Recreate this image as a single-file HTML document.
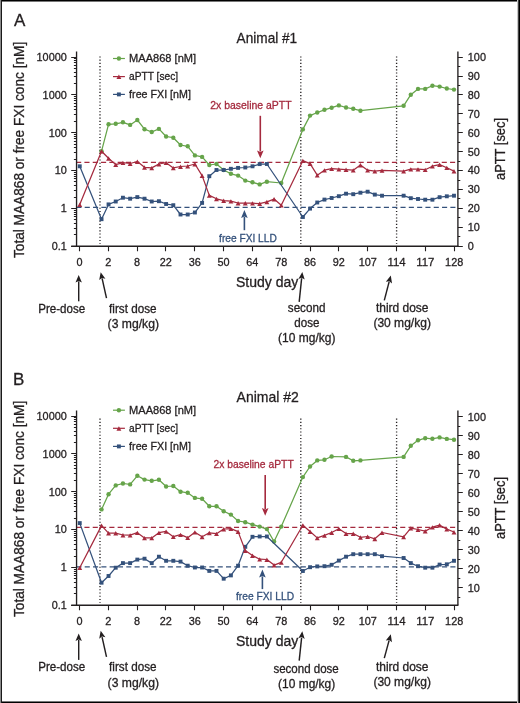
<!DOCTYPE html>
<html><head><meta charset="utf-8"><style>
html,body{margin:0;padding:0;background:#fff;}
body{width:520px;height:703px;overflow:hidden;}
svg{display:block;will-change:transform;}
text{font-family:"Liberation Sans", sans-serif;}
</style></head><body>
<svg width="520" height="703" viewBox="0 0 520 703">
<rect x="0" y="0" width="520" height="703" fill="#fff"/>
<line x1="100.0" y1="56.4" x2="100.0" y2="243.95" stroke="#231f20" stroke-width="1.35" stroke-dasharray="1.1 2.12"/>
<line x1="300.8" y1="56.4" x2="300.8" y2="243.95" stroke="#231f20" stroke-width="1.35" stroke-dasharray="1.1 2.12"/>
<line x1="396.6" y1="56.4" x2="396.6" y2="243.95" stroke="#231f20" stroke-width="1.35" stroke-dasharray="1.1 2.12"/>
<line x1="76.1" y1="162.4" x2="455.5" y2="162.4" stroke="#a52a3e" stroke-width="1.2" stroke-dasharray="5.1 3.21"/>
<line x1="76.4" y1="207.4" x2="455.5" y2="207.4" stroke="#34517b" stroke-width="1.2" stroke-dasharray="5.1 3.21"/>
<line x1="76.55" y1="51.5" x2="76.55" y2="246.25" stroke="#231f20" stroke-width="1.35"/>
<line x1="71.2" y1="57.50" x2="76.55" y2="57.50" stroke="#231f20" stroke-width="1"/>
<text x="66.8" y="61.0" font-size="11.6" fill="#231f20" stroke="#231f20" stroke-width="0.3" text-anchor="end" textLength="30.25" lengthAdjust="spacingAndGlyphs">10000</text>
<line x1="73.9" y1="83.50" x2="76.55" y2="83.50" stroke="#231f20" stroke-width="1"/>
<line x1="73.9" y1="76.50" x2="76.55" y2="76.50" stroke="#231f20" stroke-width="1"/>
<line x1="73.9" y1="72.50" x2="76.55" y2="72.50" stroke="#231f20" stroke-width="1"/>
<line x1="73.9" y1="68.50" x2="76.55" y2="68.50" stroke="#231f20" stroke-width="1"/>
<line x1="73.9" y1="65.50" x2="76.55" y2="65.50" stroke="#231f20" stroke-width="1"/>
<line x1="73.9" y1="62.50" x2="76.55" y2="62.50" stroke="#231f20" stroke-width="1"/>
<line x1="73.9" y1="60.50" x2="76.55" y2="60.50" stroke="#231f20" stroke-width="1"/>
<line x1="73.9" y1="58.50" x2="76.55" y2="58.50" stroke="#231f20" stroke-width="1"/>
<line x1="71.2" y1="94.50" x2="76.55" y2="94.50" stroke="#231f20" stroke-width="1"/>
<text x="66.8" y="98.83000000000001" font-size="11.6" fill="#231f20" stroke="#231f20" stroke-width="0.3" text-anchor="end" textLength="24.2" lengthAdjust="spacingAndGlyphs">1000</text>
<line x1="73.9" y1="121.50" x2="76.55" y2="121.50" stroke="#231f20" stroke-width="1"/>
<line x1="73.9" y1="114.50" x2="76.55" y2="114.50" stroke="#231f20" stroke-width="1"/>
<line x1="73.9" y1="109.50" x2="76.55" y2="109.50" stroke="#231f20" stroke-width="1"/>
<line x1="73.9" y1="106.50" x2="76.55" y2="106.50" stroke="#231f20" stroke-width="1"/>
<line x1="73.9" y1="103.50" x2="76.55" y2="103.50" stroke="#231f20" stroke-width="1"/>
<line x1="73.9" y1="100.50" x2="76.55" y2="100.50" stroke="#231f20" stroke-width="1"/>
<line x1="73.9" y1="98.50" x2="76.55" y2="98.50" stroke="#231f20" stroke-width="1"/>
<line x1="73.9" y1="96.50" x2="76.55" y2="96.50" stroke="#231f20" stroke-width="1"/>
<line x1="71.2" y1="132.50" x2="76.55" y2="132.50" stroke="#231f20" stroke-width="1"/>
<text x="66.8" y="136.66" font-size="11.6" fill="#231f20" stroke="#231f20" stroke-width="0.3" text-anchor="end" textLength="18.15" lengthAdjust="spacingAndGlyphs">100</text>
<line x1="73.9" y1="159.50" x2="76.55" y2="159.50" stroke="#231f20" stroke-width="1"/>
<line x1="73.9" y1="152.50" x2="76.55" y2="152.50" stroke="#231f20" stroke-width="1"/>
<line x1="73.9" y1="147.50" x2="76.55" y2="147.50" stroke="#231f20" stroke-width="1"/>
<line x1="73.9" y1="144.50" x2="76.55" y2="144.50" stroke="#231f20" stroke-width="1"/>
<line x1="73.9" y1="141.50" x2="76.55" y2="141.50" stroke="#231f20" stroke-width="1"/>
<line x1="73.9" y1="138.50" x2="76.55" y2="138.50" stroke="#231f20" stroke-width="1"/>
<line x1="73.9" y1="136.50" x2="76.55" y2="136.50" stroke="#231f20" stroke-width="1"/>
<line x1="73.9" y1="134.50" x2="76.55" y2="134.50" stroke="#231f20" stroke-width="1"/>
<line x1="71.2" y1="170.50" x2="76.55" y2="170.50" stroke="#231f20" stroke-width="1"/>
<text x="66.8" y="174.49" font-size="11.6" fill="#231f20" stroke="#231f20" stroke-width="0.3" text-anchor="end" textLength="12.1" lengthAdjust="spacingAndGlyphs">10</text>
<line x1="73.9" y1="197.50" x2="76.55" y2="197.50" stroke="#231f20" stroke-width="1"/>
<line x1="73.9" y1="190.50" x2="76.55" y2="190.50" stroke="#231f20" stroke-width="1"/>
<line x1="73.9" y1="185.50" x2="76.55" y2="185.50" stroke="#231f20" stroke-width="1"/>
<line x1="73.9" y1="181.50" x2="76.55" y2="181.50" stroke="#231f20" stroke-width="1"/>
<line x1="73.9" y1="178.50" x2="76.55" y2="178.50" stroke="#231f20" stroke-width="1"/>
<line x1="73.9" y1="176.50" x2="76.55" y2="176.50" stroke="#231f20" stroke-width="1"/>
<line x1="73.9" y1="174.50" x2="76.55" y2="174.50" stroke="#231f20" stroke-width="1"/>
<line x1="73.9" y1="172.50" x2="76.55" y2="172.50" stroke="#231f20" stroke-width="1"/>
<line x1="71.2" y1="208.50" x2="76.55" y2="208.50" stroke="#231f20" stroke-width="1"/>
<text x="66.8" y="212.32" font-size="11.6" fill="#231f20" stroke="#231f20" stroke-width="0.3" text-anchor="end" textLength="6.05" lengthAdjust="spacingAndGlyphs">1</text>
<line x1="73.9" y1="234.50" x2="76.55" y2="234.50" stroke="#231f20" stroke-width="1"/>
<line x1="73.9" y1="228.50" x2="76.55" y2="228.50" stroke="#231f20" stroke-width="1"/>
<line x1="73.9" y1="223.50" x2="76.55" y2="223.50" stroke="#231f20" stroke-width="1"/>
<line x1="73.9" y1="219.50" x2="76.55" y2="219.50" stroke="#231f20" stroke-width="1"/>
<line x1="73.9" y1="216.50" x2="76.55" y2="216.50" stroke="#231f20" stroke-width="1"/>
<line x1="73.9" y1="214.50" x2="76.55" y2="214.50" stroke="#231f20" stroke-width="1"/>
<line x1="73.9" y1="212.50" x2="76.55" y2="212.50" stroke="#231f20" stroke-width="1"/>
<line x1="73.9" y1="210.50" x2="76.55" y2="210.50" stroke="#231f20" stroke-width="1"/>
<line x1="71.2" y1="246.50" x2="76.55" y2="246.50" stroke="#231f20" stroke-width="1"/>
<text x="66.8" y="250.14999999999998" font-size="11.6" fill="#231f20" stroke="#231f20" stroke-width="0.3" text-anchor="end" textLength="15.0" lengthAdjust="spacingAndGlyphs">0.1</text>
<line x1="457.9" y1="51.5" x2="457.9" y2="246.25" stroke="#231f20" stroke-width="1.35"/>
<line x1="457.9" y1="57.50" x2="462.8" y2="57.50" stroke="#231f20" stroke-width="1"/>
<text x="467.8" y="61.0" font-size="11.6" fill="#231f20" stroke="#231f20" stroke-width="0.3" text-anchor="start" textLength="18.15" lengthAdjust="spacingAndGlyphs">100</text>
<line x1="457.9" y1="66.50" x2="460.3" y2="66.50" stroke="#231f20" stroke-width="1"/>
<line x1="457.9" y1="76.50" x2="462.8" y2="76.50" stroke="#231f20" stroke-width="1"/>
<text x="467.8" y="79.915" font-size="11.6" fill="#231f20" stroke="#231f20" stroke-width="0.3" text-anchor="start" textLength="12.1" lengthAdjust="spacingAndGlyphs">90</text>
<line x1="457.9" y1="85.50" x2="460.3" y2="85.50" stroke="#231f20" stroke-width="1"/>
<line x1="457.9" y1="94.50" x2="462.8" y2="94.50" stroke="#231f20" stroke-width="1"/>
<text x="467.8" y="98.83000000000001" font-size="11.6" fill="#231f20" stroke="#231f20" stroke-width="0.3" text-anchor="start" textLength="12.1" lengthAdjust="spacingAndGlyphs">80</text>
<line x1="457.9" y1="104.50" x2="460.3" y2="104.50" stroke="#231f20" stroke-width="1"/>
<line x1="457.9" y1="113.50" x2="462.8" y2="113.50" stroke="#231f20" stroke-width="1"/>
<text x="467.8" y="117.745" font-size="11.6" fill="#231f20" stroke="#231f20" stroke-width="0.3" text-anchor="start" textLength="12.1" lengthAdjust="spacingAndGlyphs">70</text>
<line x1="457.9" y1="123.50" x2="460.3" y2="123.50" stroke="#231f20" stroke-width="1"/>
<line x1="457.9" y1="132.50" x2="462.8" y2="132.50" stroke="#231f20" stroke-width="1"/>
<text x="467.8" y="136.66" font-size="11.6" fill="#231f20" stroke="#231f20" stroke-width="0.3" text-anchor="start" textLength="12.1" lengthAdjust="spacingAndGlyphs">60</text>
<line x1="457.9" y1="142.50" x2="460.3" y2="142.50" stroke="#231f20" stroke-width="1"/>
<line x1="457.9" y1="151.50" x2="462.8" y2="151.50" stroke="#231f20" stroke-width="1"/>
<text x="467.8" y="155.575" font-size="11.6" fill="#231f20" stroke="#231f20" stroke-width="0.3" text-anchor="start" textLength="12.1" lengthAdjust="spacingAndGlyphs">50</text>
<line x1="457.9" y1="161.50" x2="460.3" y2="161.50" stroke="#231f20" stroke-width="1"/>
<line x1="457.9" y1="170.50" x2="462.8" y2="170.50" stroke="#231f20" stroke-width="1"/>
<text x="467.8" y="174.49" font-size="11.6" fill="#231f20" stroke="#231f20" stroke-width="0.3" text-anchor="start" textLength="12.1" lengthAdjust="spacingAndGlyphs">40</text>
<line x1="457.9" y1="180.50" x2="460.3" y2="180.50" stroke="#231f20" stroke-width="1"/>
<line x1="457.9" y1="189.50" x2="462.8" y2="189.50" stroke="#231f20" stroke-width="1"/>
<text x="467.8" y="193.405" font-size="11.6" fill="#231f20" stroke="#231f20" stroke-width="0.3" text-anchor="start" textLength="12.1" lengthAdjust="spacingAndGlyphs">30</text>
<line x1="457.9" y1="198.50" x2="460.3" y2="198.50" stroke="#231f20" stroke-width="1"/>
<line x1="457.9" y1="208.50" x2="462.8" y2="208.50" stroke="#231f20" stroke-width="1"/>
<text x="467.8" y="212.32" font-size="11.6" fill="#231f20" stroke="#231f20" stroke-width="0.3" text-anchor="start" textLength="12.1" lengthAdjust="spacingAndGlyphs">20</text>
<line x1="457.9" y1="217.50" x2="460.3" y2="217.50" stroke="#231f20" stroke-width="1"/>
<line x1="457.9" y1="227.50" x2="462.8" y2="227.50" stroke="#231f20" stroke-width="1"/>
<text x="467.8" y="231.23499999999999" font-size="11.6" fill="#231f20" stroke="#231f20" stroke-width="0.3" text-anchor="start" textLength="12.1" lengthAdjust="spacingAndGlyphs">10</text>
<line x1="457.9" y1="236.50" x2="460.3" y2="236.50" stroke="#231f20" stroke-width="1"/>
<line x1="457.9" y1="246.50" x2="462.8" y2="246.50" stroke="#231f20" stroke-width="1"/>
<text x="467.8" y="250.14999999999998" font-size="11.6" fill="#231f20" stroke="#231f20" stroke-width="0.3" text-anchor="start" textLength="6.05" lengthAdjust="spacingAndGlyphs">0</text>
<line x1="71.2" y1="246.25" x2="458.4" y2="246.25" stroke="#231f20" stroke-width="1.3"/>
<line x1="79.50" y1="246.25" x2="79.50" y2="251.25" stroke="#231f20" stroke-width="1.1"/>
<text x="79.40" y="266.45" font-size="11.6" fill="#231f20" stroke="#231f20" stroke-width="0.3" text-anchor="middle" textLength="6.05" lengthAdjust="spacingAndGlyphs">0</text>
<line x1="108.50" y1="246.25" x2="108.50" y2="251.25" stroke="#231f20" stroke-width="1.1"/>
<text x="108.23" y="266.45" font-size="11.6" fill="#231f20" stroke="#231f20" stroke-width="0.3" text-anchor="middle" textLength="6.05" lengthAdjust="spacingAndGlyphs">2</text>
<line x1="137.50" y1="246.25" x2="137.50" y2="251.25" stroke="#231f20" stroke-width="1.1"/>
<text x="137.06" y="266.45" font-size="11.6" fill="#231f20" stroke="#231f20" stroke-width="0.3" text-anchor="middle" textLength="6.05" lengthAdjust="spacingAndGlyphs">8</text>
<line x1="165.50" y1="246.25" x2="165.50" y2="251.25" stroke="#231f20" stroke-width="1.1"/>
<text x="165.89" y="266.45" font-size="11.6" fill="#231f20" stroke="#231f20" stroke-width="0.3" text-anchor="middle" textLength="12.1" lengthAdjust="spacingAndGlyphs">22</text>
<line x1="194.50" y1="246.25" x2="194.50" y2="251.25" stroke="#231f20" stroke-width="1.1"/>
<text x="194.72" y="266.45" font-size="11.6" fill="#231f20" stroke="#231f20" stroke-width="0.3" text-anchor="middle" textLength="12.1" lengthAdjust="spacingAndGlyphs">36</text>
<line x1="223.50" y1="246.25" x2="223.50" y2="251.25" stroke="#231f20" stroke-width="1.1"/>
<text x="223.55" y="266.45" font-size="11.6" fill="#231f20" stroke="#231f20" stroke-width="0.3" text-anchor="middle" textLength="12.1" lengthAdjust="spacingAndGlyphs">50</text>
<line x1="252.50" y1="246.25" x2="252.50" y2="251.25" stroke="#231f20" stroke-width="1.1"/>
<text x="252.38" y="266.45" font-size="11.6" fill="#231f20" stroke="#231f20" stroke-width="0.3" text-anchor="middle" textLength="12.1" lengthAdjust="spacingAndGlyphs">64</text>
<line x1="281.50" y1="246.25" x2="281.50" y2="251.25" stroke="#231f20" stroke-width="1.1"/>
<text x="281.21" y="266.45" font-size="11.6" fill="#231f20" stroke="#231f20" stroke-width="0.3" text-anchor="middle" textLength="12.1" lengthAdjust="spacingAndGlyphs">78</text>
<line x1="310.50" y1="246.25" x2="310.50" y2="251.25" stroke="#231f20" stroke-width="1.1"/>
<text x="310.04" y="266.45" font-size="11.6" fill="#231f20" stroke="#231f20" stroke-width="0.3" text-anchor="middle" textLength="12.1" lengthAdjust="spacingAndGlyphs">86</text>
<line x1="338.50" y1="246.25" x2="338.50" y2="251.25" stroke="#231f20" stroke-width="1.1"/>
<text x="338.87" y="266.45" font-size="11.6" fill="#231f20" stroke="#231f20" stroke-width="0.3" text-anchor="middle" textLength="12.1" lengthAdjust="spacingAndGlyphs">92</text>
<line x1="367.50" y1="246.25" x2="367.50" y2="251.25" stroke="#231f20" stroke-width="1.1"/>
<text x="367.70" y="266.45" font-size="11.6" fill="#231f20" stroke="#231f20" stroke-width="0.3" text-anchor="middle" textLength="18.15" lengthAdjust="spacingAndGlyphs">107</text>
<line x1="396.50" y1="246.25" x2="396.50" y2="251.25" stroke="#231f20" stroke-width="1.1"/>
<text x="396.53" y="266.45" font-size="11.6" fill="#231f20" stroke="#231f20" stroke-width="0.3" text-anchor="middle" textLength="18.15" lengthAdjust="spacingAndGlyphs">114</text>
<line x1="425.50" y1="246.25" x2="425.50" y2="251.25" stroke="#231f20" stroke-width="1.1"/>
<text x="425.36" y="266.45" font-size="11.6" fill="#231f20" stroke="#231f20" stroke-width="0.3" text-anchor="middle" textLength="18.15" lengthAdjust="spacingAndGlyphs">117</text>
<line x1="454.50" y1="246.25" x2="454.50" y2="251.25" stroke="#231f20" stroke-width="1.1"/>
<text x="454.19" y="266.45" font-size="11.6" fill="#231f20" stroke="#231f20" stroke-width="0.3" text-anchor="middle" textLength="18.15" lengthAdjust="spacingAndGlyphs">128</text>
<polyline points="101.54,151.20 108.54,124.30 115.73,123.80 122.93,122.30 130.13,124.90 137.33,120.00 144.52,129.20 151.72,132.00 158.92,128.90 166.11,136.50 173.31,137.70 180.51,145.00 187.70,146.30 194.90,155.40 202.10,156.90 209.30,165.00 216.49,164.00 223.69,170.00 230.89,173.80 238.08,175.60 245.28,180.60 252.48,182.30 259.68,184.40 266.87,181.70 281.27,183.00 302.86,129.40 310.05,115.60 317.25,112.50 324.45,109.80 331.64,107.70 338.84,105.40 346.04,107.50 353.24,108.80 360.43,110.70 403.62,105.80 410.81,94.70 418.01,88.90 425.21,88.90 432.40,85.70 439.60,86.60 446.80,88.50 453.99,89.60" fill="none" stroke="#66a44a" stroke-width="1.25" stroke-linejoin="round"/>
<circle cx="101.54" cy="151.20" r="2.20" fill="#66a44a"/>
<circle cx="108.54" cy="124.30" r="2.20" fill="#66a44a"/>
<circle cx="115.73" cy="123.80" r="2.20" fill="#66a44a"/>
<circle cx="122.93" cy="122.30" r="2.20" fill="#66a44a"/>
<circle cx="130.13" cy="124.90" r="2.20" fill="#66a44a"/>
<circle cx="137.33" cy="120.00" r="2.20" fill="#66a44a"/>
<circle cx="144.52" cy="129.20" r="2.20" fill="#66a44a"/>
<circle cx="151.72" cy="132.00" r="2.20" fill="#66a44a"/>
<circle cx="158.92" cy="128.90" r="2.20" fill="#66a44a"/>
<circle cx="166.11" cy="136.50" r="2.20" fill="#66a44a"/>
<circle cx="173.31" cy="137.70" r="2.20" fill="#66a44a"/>
<circle cx="180.51" cy="145.00" r="2.20" fill="#66a44a"/>
<circle cx="187.70" cy="146.30" r="2.20" fill="#66a44a"/>
<circle cx="194.90" cy="155.40" r="2.20" fill="#66a44a"/>
<circle cx="202.10" cy="156.90" r="2.20" fill="#66a44a"/>
<circle cx="209.30" cy="165.00" r="2.20" fill="#66a44a"/>
<circle cx="216.49" cy="164.00" r="2.20" fill="#66a44a"/>
<circle cx="223.69" cy="170.00" r="2.20" fill="#66a44a"/>
<circle cx="230.89" cy="173.80" r="2.20" fill="#66a44a"/>
<circle cx="238.08" cy="175.60" r="2.20" fill="#66a44a"/>
<circle cx="245.28" cy="180.60" r="2.20" fill="#66a44a"/>
<circle cx="252.48" cy="182.30" r="2.20" fill="#66a44a"/>
<circle cx="259.68" cy="184.40" r="2.20" fill="#66a44a"/>
<circle cx="266.87" cy="181.70" r="2.20" fill="#66a44a"/>
<circle cx="281.27" cy="183.00" r="2.20" fill="#66a44a"/>
<circle cx="302.86" cy="129.40" r="2.20" fill="#66a44a"/>
<circle cx="310.05" cy="115.60" r="2.20" fill="#66a44a"/>
<circle cx="317.25" cy="112.50" r="2.20" fill="#66a44a"/>
<circle cx="324.45" cy="109.80" r="2.20" fill="#66a44a"/>
<circle cx="331.64" cy="107.70" r="2.20" fill="#66a44a"/>
<circle cx="338.84" cy="105.40" r="2.20" fill="#66a44a"/>
<circle cx="346.04" cy="107.50" r="2.20" fill="#66a44a"/>
<circle cx="353.24" cy="108.80" r="2.20" fill="#66a44a"/>
<circle cx="360.43" cy="110.70" r="2.20" fill="#66a44a"/>
<circle cx="403.62" cy="105.80" r="2.20" fill="#66a44a"/>
<circle cx="410.81" cy="94.70" r="2.20" fill="#66a44a"/>
<circle cx="418.01" cy="88.90" r="2.20" fill="#66a44a"/>
<circle cx="425.21" cy="88.90" r="2.20" fill="#66a44a"/>
<circle cx="432.40" cy="85.70" r="2.20" fill="#66a44a"/>
<circle cx="439.60" cy="86.60" r="2.20" fill="#66a44a"/>
<circle cx="446.80" cy="88.50" r="2.20" fill="#66a44a"/>
<circle cx="453.99" cy="89.60" r="2.20" fill="#66a44a"/>
<polyline points="79.75,166.30 101.54,219.20 108.54,204.40 115.73,201.50 122.93,197.70 130.13,198.70 137.33,197.10 144.52,198.70 151.72,201.50 158.92,201.20 166.11,204.00 173.31,205.20 180.51,214.50 187.70,214.50 194.90,212.50 202.10,202.90 209.30,176.20 216.49,170.00 223.69,170.00 230.89,168.80 238.08,167.90 245.28,167.50 252.48,166.30 259.68,164.10 266.87,164.00 302.86,217.00 310.05,208.60 317.25,202.50 324.45,199.60 331.64,198.00 338.84,196.20 346.04,193.70 353.24,194.20 360.43,192.70 367.63,191.70 374.83,194.60 382.02,195.70 403.62,195.70 410.81,198.20 418.01,199.00 425.21,199.70 432.40,199.70 439.60,197.20 446.80,196.30 453.99,195.70" fill="none" stroke="#34517b" stroke-width="1.25" stroke-linejoin="round"/>
<rect x="77.80" y="164.35" width="3.90" height="3.90" fill="#34517b"/>
<rect x="99.59" y="217.25" width="3.90" height="3.90" fill="#34517b"/>
<rect x="106.59" y="202.45" width="3.90" height="3.90" fill="#34517b"/>
<rect x="113.78" y="199.55" width="3.90" height="3.90" fill="#34517b"/>
<rect x="120.98" y="195.75" width="3.90" height="3.90" fill="#34517b"/>
<rect x="128.18" y="196.75" width="3.90" height="3.90" fill="#34517b"/>
<rect x="135.38" y="195.15" width="3.90" height="3.90" fill="#34517b"/>
<rect x="142.57" y="196.75" width="3.90" height="3.90" fill="#34517b"/>
<rect x="149.77" y="199.55" width="3.90" height="3.90" fill="#34517b"/>
<rect x="156.97" y="199.25" width="3.90" height="3.90" fill="#34517b"/>
<rect x="164.16" y="202.05" width="3.90" height="3.90" fill="#34517b"/>
<rect x="171.36" y="203.25" width="3.90" height="3.90" fill="#34517b"/>
<rect x="178.56" y="212.55" width="3.90" height="3.90" fill="#34517b"/>
<rect x="185.75" y="212.55" width="3.90" height="3.90" fill="#34517b"/>
<rect x="192.95" y="210.55" width="3.90" height="3.90" fill="#34517b"/>
<rect x="200.15" y="200.95" width="3.90" height="3.90" fill="#34517b"/>
<rect x="207.35" y="174.25" width="3.90" height="3.90" fill="#34517b"/>
<rect x="214.54" y="168.05" width="3.90" height="3.90" fill="#34517b"/>
<rect x="221.74" y="168.05" width="3.90" height="3.90" fill="#34517b"/>
<rect x="228.94" y="166.85" width="3.90" height="3.90" fill="#34517b"/>
<rect x="236.13" y="165.95" width="3.90" height="3.90" fill="#34517b"/>
<rect x="243.33" y="165.55" width="3.90" height="3.90" fill="#34517b"/>
<rect x="250.53" y="164.35" width="3.90" height="3.90" fill="#34517b"/>
<rect x="257.73" y="162.15" width="3.90" height="3.90" fill="#34517b"/>
<rect x="264.92" y="162.05" width="3.90" height="3.90" fill="#34517b"/>
<rect x="300.91" y="215.05" width="3.90" height="3.90" fill="#34517b"/>
<rect x="308.10" y="206.65" width="3.90" height="3.90" fill="#34517b"/>
<rect x="315.30" y="200.55" width="3.90" height="3.90" fill="#34517b"/>
<rect x="322.50" y="197.65" width="3.90" height="3.90" fill="#34517b"/>
<rect x="329.69" y="196.05" width="3.90" height="3.90" fill="#34517b"/>
<rect x="336.89" y="194.25" width="3.90" height="3.90" fill="#34517b"/>
<rect x="344.09" y="191.75" width="3.90" height="3.90" fill="#34517b"/>
<rect x="351.29" y="192.25" width="3.90" height="3.90" fill="#34517b"/>
<rect x="358.48" y="190.75" width="3.90" height="3.90" fill="#34517b"/>
<rect x="365.68" y="189.75" width="3.90" height="3.90" fill="#34517b"/>
<rect x="372.88" y="192.65" width="3.90" height="3.90" fill="#34517b"/>
<rect x="380.07" y="193.75" width="3.90" height="3.90" fill="#34517b"/>
<rect x="401.67" y="193.75" width="3.90" height="3.90" fill="#34517b"/>
<rect x="408.86" y="196.25" width="3.90" height="3.90" fill="#34517b"/>
<rect x="416.06" y="197.05" width="3.90" height="3.90" fill="#34517b"/>
<rect x="423.26" y="197.75" width="3.90" height="3.90" fill="#34517b"/>
<rect x="430.45" y="197.75" width="3.90" height="3.90" fill="#34517b"/>
<rect x="437.65" y="195.25" width="3.90" height="3.90" fill="#34517b"/>
<rect x="444.85" y="194.35" width="3.90" height="3.90" fill="#34517b"/>
<rect x="452.04" y="193.75" width="3.90" height="3.90" fill="#34517b"/>
<polyline points="79.75,204.60 101.54,151.20 108.54,158.30 115.73,164.60 122.93,162.70 130.13,163.50 137.33,161.50 144.52,167.30 151.72,167.90 158.92,164.00 166.11,162.70 173.31,167.90 180.51,166.50 187.70,166.00 194.90,164.00 202.10,175.60 209.30,195.40 216.49,198.80 223.69,200.60 230.89,201.20 238.08,203.00 245.28,203.00 252.48,203.20 259.68,203.60 266.87,201.80 274.07,199.10 281.27,205.20 302.86,160.70 310.05,163.60 317.25,175.20 324.45,170.20 331.64,168.70 338.84,169.20 346.04,169.60 353.24,170.20 360.43,165.00 367.63,170.20 374.83,171.20 382.02,170.40 403.62,171.20 410.81,169.20 418.01,169.20 425.21,169.70 432.40,166.20 439.60,164.60 446.80,167.70 453.99,171.10" fill="none" stroke="#a52a3e" stroke-width="1.25" stroke-linejoin="round"/>
<polygon points="79.75,202.62 82.20,207.02 77.30,207.02" fill="#a52a3e"/>
<polygon points="101.54,149.22 103.99,153.62 99.09,153.62" fill="#a52a3e"/>
<polygon points="108.54,156.32 110.99,160.72 106.09,160.72" fill="#a52a3e"/>
<polygon points="115.73,162.62 118.19,167.02 113.28,167.02" fill="#a52a3e"/>
<polygon points="122.93,160.72 125.38,165.12 120.48,165.12" fill="#a52a3e"/>
<polygon points="130.13,161.52 132.58,165.92 127.68,165.92" fill="#a52a3e"/>
<polygon points="137.33,159.52 139.78,163.92 134.88,163.92" fill="#a52a3e"/>
<polygon points="144.52,165.32 146.97,169.72 142.07,169.72" fill="#a52a3e"/>
<polygon points="151.72,165.92 154.17,170.32 149.27,170.32" fill="#a52a3e"/>
<polygon points="158.92,162.02 161.37,166.42 156.47,166.42" fill="#a52a3e"/>
<polygon points="166.11,160.72 168.56,165.12 163.66,165.12" fill="#a52a3e"/>
<polygon points="173.31,165.92 175.76,170.32 170.86,170.32" fill="#a52a3e"/>
<polygon points="180.51,164.52 182.96,168.92 178.06,168.92" fill="#a52a3e"/>
<polygon points="187.70,164.02 190.15,168.42 185.25,168.42" fill="#a52a3e"/>
<polygon points="194.90,162.02 197.35,166.42 192.45,166.42" fill="#a52a3e"/>
<polygon points="202.10,173.62 204.55,178.02 199.65,178.02" fill="#a52a3e"/>
<polygon points="209.30,193.42 211.75,197.82 206.85,197.82" fill="#a52a3e"/>
<polygon points="216.49,196.82 218.94,201.22 214.04,201.22" fill="#a52a3e"/>
<polygon points="223.69,198.62 226.14,203.02 221.24,203.02" fill="#a52a3e"/>
<polygon points="230.89,199.22 233.34,203.62 228.44,203.62" fill="#a52a3e"/>
<polygon points="238.08,201.02 240.53,205.42 235.63,205.42" fill="#a52a3e"/>
<polygon points="245.28,201.02 247.73,205.42 242.83,205.42" fill="#a52a3e"/>
<polygon points="252.48,201.22 254.93,205.62 250.03,205.62" fill="#a52a3e"/>
<polygon points="259.68,201.62 262.12,206.02 257.23,206.02" fill="#a52a3e"/>
<polygon points="266.87,199.82 269.32,204.22 264.42,204.22" fill="#a52a3e"/>
<polygon points="274.07,197.12 276.52,201.52 271.62,201.52" fill="#a52a3e"/>
<polygon points="281.27,203.22 283.72,207.62 278.82,207.62" fill="#a52a3e"/>
<polygon points="302.86,158.72 305.31,163.12 300.41,163.12" fill="#a52a3e"/>
<polygon points="310.05,161.62 312.50,166.02 307.60,166.02" fill="#a52a3e"/>
<polygon points="317.25,173.22 319.70,177.62 314.80,177.62" fill="#a52a3e"/>
<polygon points="324.45,168.22 326.90,172.62 322.00,172.62" fill="#a52a3e"/>
<polygon points="331.64,166.72 334.09,171.12 329.19,171.12" fill="#a52a3e"/>
<polygon points="338.84,167.22 341.29,171.62 336.39,171.62" fill="#a52a3e"/>
<polygon points="346.04,167.62 348.49,172.02 343.59,172.02" fill="#a52a3e"/>
<polygon points="353.24,168.22 355.69,172.62 350.79,172.62" fill="#a52a3e"/>
<polygon points="360.43,163.02 362.88,167.42 357.98,167.42" fill="#a52a3e"/>
<polygon points="367.63,168.22 370.08,172.62 365.18,172.62" fill="#a52a3e"/>
<polygon points="374.83,169.22 377.28,173.62 372.38,173.62" fill="#a52a3e"/>
<polygon points="382.02,168.42 384.47,172.82 379.57,172.82" fill="#a52a3e"/>
<polygon points="403.62,169.22 406.06,173.62 401.17,173.62" fill="#a52a3e"/>
<polygon points="410.81,167.22 413.26,171.62 408.36,171.62" fill="#a52a3e"/>
<polygon points="418.01,167.22 420.46,171.62 415.56,171.62" fill="#a52a3e"/>
<polygon points="425.21,167.72 427.66,172.12 422.76,172.12" fill="#a52a3e"/>
<polygon points="432.40,164.22 434.85,168.62 429.95,168.62" fill="#a52a3e"/>
<polygon points="439.60,162.62 442.05,167.02 437.15,167.02" fill="#a52a3e"/>
<polygon points="446.80,165.72 449.25,170.12 444.35,170.12" fill="#a52a3e"/>
<polygon points="453.99,169.12 456.44,173.52 451.54,173.52" fill="#a52a3e"/>
<line x1="113" y1="58.5" x2="124.9" y2="58.5" stroke="#66a44a" stroke-width="1.2"/>
<circle cx="118.90" cy="58.50" r="2.20" fill="#66a44a"/>
<text x="129.1" y="62.1" font-size="11" fill="#231f20" stroke="#231f20" stroke-width="0.3" text-anchor="start" textLength="67" lengthAdjust="spacingAndGlyphs">MAA868 [nM]</text>
<line x1="113" y1="76.6" x2="124.9" y2="76.6" stroke="#a52a3e" stroke-width="1.2"/>
<polygon points="118.90,74.62 121.35,79.02 116.45,79.02" fill="#a52a3e"/>
<text x="129.1" y="80.19999999999999" font-size="11" fill="#231f20" stroke="#231f20" stroke-width="0.3" text-anchor="start" textLength="49" lengthAdjust="spacingAndGlyphs">aPTT [sec]</text>
<line x1="113" y1="94.4" x2="124.9" y2="94.4" stroke="#34517b" stroke-width="1.2"/>
<rect x="116.95" y="92.45" width="3.90" height="3.90" fill="#34517b"/>
<text x="129.1" y="98.0" font-size="11" fill="#231f20" stroke="#231f20" stroke-width="0.3" text-anchor="start" textLength="61.8" lengthAdjust="spacingAndGlyphs">free FXI [nM]</text>
<text x="13.9" y="25.9" font-size="17" fill="#231f20" stroke="#231f20" stroke-width="0.3" text-anchor="start">A</text>
<text x="236.6" y="43.1" font-size="15" fill="#231f20" stroke="#231f20" stroke-width="0.3" text-anchor="start" textLength="60.6" lengthAdjust="spacingAndGlyphs">Animal #1</text>
<text transform="translate(23.9,258) rotate(-90)" font-size="15" fill="#231f20" stroke="#231f20" stroke-width="0.3" text-anchor="start" textLength="216.2" lengthAdjust="spacingAndGlyphs">Total MAA868 or free FXI conc [nM]</text>
<text transform="translate(505.2,180.0) rotate(-90)" font-size="14" fill="#231f20" stroke="#231f20" stroke-width="0.3" text-anchor="start" textLength="62" lengthAdjust="spacingAndGlyphs">aPTT [sec]</text>
<text x="236.0" y="286.5" font-size="14" fill="#231f20" stroke="#231f20" stroke-width="0.3" text-anchor="start" textLength="62.3" lengthAdjust="spacingAndGlyphs">Study day</text>
<text x="210.2" y="109" font-size="11.5" fill="#a52a3e" stroke="#a52a3e" stroke-width="0.3" text-anchor="start" textLength="81.4" lengthAdjust="spacingAndGlyphs">2x baseline aPTT</text>
<text x="219.1" y="241.8" font-size="11.5" fill="#34517b" stroke="#34517b" stroke-width="0.3" text-anchor="start" textLength="57.7" lengthAdjust="spacingAndGlyphs">free FXI LLD</text>
<line x1="260.30" y1="115.80" x2="260.30" y2="151.50" stroke="#a52a3e" stroke-width="1.6"/>
<polygon points="260.30,158.30 257.00,150.50 260.30,152.00 263.60,150.50" fill="#a52a3e"/>
<line x1="244.40" y1="230.20" x2="244.40" y2="216.90" stroke="#34517b" stroke-width="1.6"/>
<polygon points="244.40,210.10 247.70,217.90 244.40,216.40 241.10,217.90" fill="#34517b"/>
<line x1="78.70" y1="301.30" x2="78.70" y2="281.40" stroke="#231f20" stroke-width="1.45"/>
<polygon points="78.70,275.00 81.90,282.40 78.70,280.90 75.50,282.40" fill="#231f20"/>
<line x1="106.50" y1="298.20" x2="102.09" y2="278.45" stroke="#231f20" stroke-width="1.45"/>
<polygon points="100.70,272.20 105.43,278.73 101.98,277.96 99.19,280.12" fill="#231f20"/>
<line x1="299.20" y1="301.90" x2="301.64" y2="278.27" stroke="#231f20" stroke-width="1.45"/>
<polygon points="302.30,271.90 304.72,279.59 301.69,277.77 298.36,278.93" fill="#231f20"/>
<line x1="384.30" y1="300.40" x2="389.18" y2="281.69" stroke="#231f20" stroke-width="1.45"/>
<polygon points="390.80,275.50 392.03,283.47 389.31,281.21 385.83,281.85" fill="#231f20"/>
<text x="38.2" y="312.5" font-size="12" fill="#231f20" stroke="#231f20" stroke-width="0.3" text-anchor="start" textLength="47" lengthAdjust="spacingAndGlyphs">Pre-dose</text>
<text x="109.1" y="312.6" font-size="12" fill="#231f20" stroke="#231f20" stroke-width="0.3" text-anchor="start" textLength="47.4" lengthAdjust="spacingAndGlyphs">first dose</text>
<text x="107.6" y="327.9" font-size="12" fill="#231f20" stroke="#231f20" stroke-width="0.3" text-anchor="start" textLength="51.4" lengthAdjust="spacingAndGlyphs">(3 mg/kg)</text>
<text x="287.8" y="312.4" font-size="12" fill="#231f20" stroke="#231f20" stroke-width="0.3" text-anchor="start" textLength="37.6" lengthAdjust="spacingAndGlyphs">second</text>
<text x="294.3" y="327.2" font-size="12" fill="#231f20" stroke="#231f20" stroke-width="0.3" text-anchor="start" textLength="25.2" lengthAdjust="spacingAndGlyphs">dose</text>
<text x="278.1" y="341.9" font-size="12" fill="#231f20" stroke="#231f20" stroke-width="0.3" text-anchor="start" textLength="57.3" lengthAdjust="spacingAndGlyphs">(10 mg/kg)</text>
<text x="375.9" y="312.4" font-size="12" fill="#231f20" stroke="#231f20" stroke-width="0.3" text-anchor="start" textLength="52.6" lengthAdjust="spacingAndGlyphs">third dose</text>
<text x="373.4" y="327.3" font-size="12" fill="#231f20" stroke="#231f20" stroke-width="0.3" text-anchor="start" textLength="57.5" lengthAdjust="spacingAndGlyphs">(30 mg/kg)</text>
<line x1="100.0" y1="418.6" x2="100.0" y2="602.95" stroke="#231f20" stroke-width="1.35" stroke-dasharray="1.1 2.12"/>
<line x1="300.8" y1="418.6" x2="300.8" y2="602.95" stroke="#231f20" stroke-width="1.35" stroke-dasharray="1.1 2.12"/>
<line x1="396.6" y1="418.6" x2="396.6" y2="602.95" stroke="#231f20" stroke-width="1.35" stroke-dasharray="1.1 2.12"/>
<line x1="76.1" y1="527.4" x2="455.5" y2="527.4" stroke="#a52a3e" stroke-width="1.2" stroke-dasharray="5.1 3.21"/>
<line x1="76.4" y1="566.9" x2="455.5" y2="566.9" stroke="#34517b" stroke-width="1.2" stroke-dasharray="5.1 3.21"/>
<line x1="76.55" y1="410.5" x2="76.55" y2="605.25" stroke="#231f20" stroke-width="1.35"/>
<line x1="71.2" y1="416.50" x2="76.55" y2="416.50" stroke="#231f20" stroke-width="1"/>
<text x="66.8" y="420.0" font-size="11.6" fill="#231f20" stroke="#231f20" stroke-width="0.3" text-anchor="end" textLength="30.25" lengthAdjust="spacingAndGlyphs">10000</text>
<line x1="73.9" y1="442.50" x2="76.55" y2="442.50" stroke="#231f20" stroke-width="1"/>
<line x1="73.9" y1="435.50" x2="76.55" y2="435.50" stroke="#231f20" stroke-width="1"/>
<line x1="73.9" y1="431.50" x2="76.55" y2="431.50" stroke="#231f20" stroke-width="1"/>
<line x1="73.9" y1="427.50" x2="76.55" y2="427.50" stroke="#231f20" stroke-width="1"/>
<line x1="73.9" y1="424.50" x2="76.55" y2="424.50" stroke="#231f20" stroke-width="1"/>
<line x1="73.9" y1="421.50" x2="76.55" y2="421.50" stroke="#231f20" stroke-width="1"/>
<line x1="73.9" y1="419.50" x2="76.55" y2="419.50" stroke="#231f20" stroke-width="1"/>
<line x1="73.9" y1="417.50" x2="76.55" y2="417.50" stroke="#231f20" stroke-width="1"/>
<line x1="71.2" y1="453.50" x2="76.55" y2="453.50" stroke="#231f20" stroke-width="1"/>
<text x="66.8" y="457.83" font-size="11.6" fill="#231f20" stroke="#231f20" stroke-width="0.3" text-anchor="end" textLength="24.2" lengthAdjust="spacingAndGlyphs">1000</text>
<line x1="73.9" y1="480.50" x2="76.55" y2="480.50" stroke="#231f20" stroke-width="1"/>
<line x1="73.9" y1="473.50" x2="76.55" y2="473.50" stroke="#231f20" stroke-width="1"/>
<line x1="73.9" y1="468.50" x2="76.55" y2="468.50" stroke="#231f20" stroke-width="1"/>
<line x1="73.9" y1="465.50" x2="76.55" y2="465.50" stroke="#231f20" stroke-width="1"/>
<line x1="73.9" y1="462.50" x2="76.55" y2="462.50" stroke="#231f20" stroke-width="1"/>
<line x1="73.9" y1="459.50" x2="76.55" y2="459.50" stroke="#231f20" stroke-width="1"/>
<line x1="73.9" y1="457.50" x2="76.55" y2="457.50" stroke="#231f20" stroke-width="1"/>
<line x1="73.9" y1="455.50" x2="76.55" y2="455.50" stroke="#231f20" stroke-width="1"/>
<line x1="71.2" y1="491.50" x2="76.55" y2="491.50" stroke="#231f20" stroke-width="1"/>
<text x="66.8" y="495.65999999999997" font-size="11.6" fill="#231f20" stroke="#231f20" stroke-width="0.3" text-anchor="end" textLength="18.15" lengthAdjust="spacingAndGlyphs">100</text>
<line x1="73.9" y1="518.50" x2="76.55" y2="518.50" stroke="#231f20" stroke-width="1"/>
<line x1="73.9" y1="511.50" x2="76.55" y2="511.50" stroke="#231f20" stroke-width="1"/>
<line x1="73.9" y1="506.50" x2="76.55" y2="506.50" stroke="#231f20" stroke-width="1"/>
<line x1="73.9" y1="503.50" x2="76.55" y2="503.50" stroke="#231f20" stroke-width="1"/>
<line x1="73.9" y1="500.50" x2="76.55" y2="500.50" stroke="#231f20" stroke-width="1"/>
<line x1="73.9" y1="497.50" x2="76.55" y2="497.50" stroke="#231f20" stroke-width="1"/>
<line x1="73.9" y1="495.50" x2="76.55" y2="495.50" stroke="#231f20" stroke-width="1"/>
<line x1="73.9" y1="493.50" x2="76.55" y2="493.50" stroke="#231f20" stroke-width="1"/>
<line x1="71.2" y1="529.50" x2="76.55" y2="529.50" stroke="#231f20" stroke-width="1"/>
<text x="66.8" y="533.49" font-size="11.6" fill="#231f20" stroke="#231f20" stroke-width="0.3" text-anchor="end" textLength="12.1" lengthAdjust="spacingAndGlyphs">10</text>
<line x1="73.9" y1="556.50" x2="76.55" y2="556.50" stroke="#231f20" stroke-width="1"/>
<line x1="73.9" y1="549.50" x2="76.55" y2="549.50" stroke="#231f20" stroke-width="1"/>
<line x1="73.9" y1="544.50" x2="76.55" y2="544.50" stroke="#231f20" stroke-width="1"/>
<line x1="73.9" y1="540.50" x2="76.55" y2="540.50" stroke="#231f20" stroke-width="1"/>
<line x1="73.9" y1="537.50" x2="76.55" y2="537.50" stroke="#231f20" stroke-width="1"/>
<line x1="73.9" y1="535.50" x2="76.55" y2="535.50" stroke="#231f20" stroke-width="1"/>
<line x1="73.9" y1="533.50" x2="76.55" y2="533.50" stroke="#231f20" stroke-width="1"/>
<line x1="73.9" y1="531.50" x2="76.55" y2="531.50" stroke="#231f20" stroke-width="1"/>
<line x1="71.2" y1="567.50" x2="76.55" y2="567.50" stroke="#231f20" stroke-width="1"/>
<text x="66.8" y="571.32" font-size="11.6" fill="#231f20" stroke="#231f20" stroke-width="0.3" text-anchor="end" textLength="6.05" lengthAdjust="spacingAndGlyphs">1</text>
<line x1="73.9" y1="593.50" x2="76.55" y2="593.50" stroke="#231f20" stroke-width="1"/>
<line x1="73.9" y1="587.50" x2="76.55" y2="587.50" stroke="#231f20" stroke-width="1"/>
<line x1="73.9" y1="582.50" x2="76.55" y2="582.50" stroke="#231f20" stroke-width="1"/>
<line x1="73.9" y1="578.50" x2="76.55" y2="578.50" stroke="#231f20" stroke-width="1"/>
<line x1="73.9" y1="575.50" x2="76.55" y2="575.50" stroke="#231f20" stroke-width="1"/>
<line x1="73.9" y1="573.50" x2="76.55" y2="573.50" stroke="#231f20" stroke-width="1"/>
<line x1="73.9" y1="571.50" x2="76.55" y2="571.50" stroke="#231f20" stroke-width="1"/>
<line x1="73.9" y1="569.50" x2="76.55" y2="569.50" stroke="#231f20" stroke-width="1"/>
<line x1="71.2" y1="605.50" x2="76.55" y2="605.50" stroke="#231f20" stroke-width="1"/>
<text x="66.8" y="609.15" font-size="11.6" fill="#231f20" stroke="#231f20" stroke-width="0.3" text-anchor="end" textLength="15.0" lengthAdjust="spacingAndGlyphs">0.1</text>
<line x1="457.9" y1="410.5" x2="457.9" y2="605.25" stroke="#231f20" stroke-width="1.35"/>
<line x1="457.9" y1="416.50" x2="462.8" y2="416.50" stroke="#231f20" stroke-width="1"/>
<text x="467.8" y="420.7" font-size="11.6" fill="#231f20" stroke="#231f20" stroke-width="0.3" text-anchor="start" textLength="18.15" lengthAdjust="spacingAndGlyphs">100</text>
<line x1="457.9" y1="426.50" x2="460.3" y2="426.50" stroke="#231f20" stroke-width="1"/>
<line x1="457.9" y1="435.50" x2="462.8" y2="435.50" stroke="#231f20" stroke-width="1"/>
<text x="467.8" y="439.7" font-size="11.6" fill="#231f20" stroke="#231f20" stroke-width="0.3" text-anchor="start" textLength="12.1" lengthAdjust="spacingAndGlyphs">90</text>
<line x1="457.9" y1="445.50" x2="460.3" y2="445.50" stroke="#231f20" stroke-width="1"/>
<line x1="457.9" y1="454.50" x2="462.8" y2="454.50" stroke="#231f20" stroke-width="1"/>
<text x="467.8" y="458.7" font-size="11.6" fill="#231f20" stroke="#231f20" stroke-width="0.3" text-anchor="start" textLength="12.1" lengthAdjust="spacingAndGlyphs">80</text>
<line x1="457.9" y1="464.50" x2="460.3" y2="464.50" stroke="#231f20" stroke-width="1"/>
<line x1="457.9" y1="473.50" x2="462.8" y2="473.50" stroke="#231f20" stroke-width="1"/>
<text x="467.8" y="477.7" font-size="11.6" fill="#231f20" stroke="#231f20" stroke-width="0.3" text-anchor="start" textLength="12.1" lengthAdjust="spacingAndGlyphs">70</text>
<line x1="457.9" y1="483.50" x2="460.3" y2="483.50" stroke="#231f20" stroke-width="1"/>
<line x1="457.9" y1="492.50" x2="462.8" y2="492.50" stroke="#231f20" stroke-width="1"/>
<text x="467.8" y="496.7" font-size="11.6" fill="#231f20" stroke="#231f20" stroke-width="0.3" text-anchor="start" textLength="12.1" lengthAdjust="spacingAndGlyphs">60</text>
<line x1="457.9" y1="502.50" x2="460.3" y2="502.50" stroke="#231f20" stroke-width="1"/>
<line x1="457.9" y1="511.50" x2="462.8" y2="511.50" stroke="#231f20" stroke-width="1"/>
<text x="467.8" y="515.7" font-size="11.6" fill="#231f20" stroke="#231f20" stroke-width="0.3" text-anchor="start" textLength="12.1" lengthAdjust="spacingAndGlyphs">50</text>
<line x1="457.9" y1="521.50" x2="460.3" y2="521.50" stroke="#231f20" stroke-width="1"/>
<line x1="457.9" y1="530.50" x2="462.8" y2="530.50" stroke="#231f20" stroke-width="1"/>
<text x="467.8" y="534.6999999999999" font-size="11.6" fill="#231f20" stroke="#231f20" stroke-width="0.3" text-anchor="start" textLength="12.1" lengthAdjust="spacingAndGlyphs">40</text>
<line x1="457.9" y1="540.50" x2="460.3" y2="540.50" stroke="#231f20" stroke-width="1"/>
<line x1="457.9" y1="549.50" x2="462.8" y2="549.50" stroke="#231f20" stroke-width="1"/>
<text x="467.8" y="553.6999999999999" font-size="11.6" fill="#231f20" stroke="#231f20" stroke-width="0.3" text-anchor="start" textLength="12.1" lengthAdjust="spacingAndGlyphs">30</text>
<line x1="457.9" y1="559.50" x2="460.3" y2="559.50" stroke="#231f20" stroke-width="1"/>
<line x1="457.9" y1="568.50" x2="462.8" y2="568.50" stroke="#231f20" stroke-width="1"/>
<text x="467.8" y="572.6999999999999" font-size="11.6" fill="#231f20" stroke="#231f20" stroke-width="0.3" text-anchor="start" textLength="12.1" lengthAdjust="spacingAndGlyphs">20</text>
<line x1="457.9" y1="578.50" x2="460.3" y2="578.50" stroke="#231f20" stroke-width="1"/>
<line x1="457.9" y1="587.50" x2="462.8" y2="587.50" stroke="#231f20" stroke-width="1"/>
<text x="467.8" y="591.6999999999999" font-size="11.6" fill="#231f20" stroke="#231f20" stroke-width="0.3" text-anchor="start" textLength="12.1" lengthAdjust="spacingAndGlyphs">10</text>
<line x1="457.9" y1="597.50" x2="460.3" y2="597.50" stroke="#231f20" stroke-width="1"/>
<line x1="71.2" y1="605.25" x2="458.4" y2="605.25" stroke="#231f20" stroke-width="1.3"/>
<line x1="79.50" y1="605.25" x2="79.50" y2="610.25" stroke="#231f20" stroke-width="1.1"/>
<text x="79.40" y="625.45" font-size="11.6" fill="#231f20" stroke="#231f20" stroke-width="0.3" text-anchor="middle" textLength="6.05" lengthAdjust="spacingAndGlyphs">0</text>
<line x1="108.50" y1="605.25" x2="108.50" y2="610.25" stroke="#231f20" stroke-width="1.1"/>
<text x="108.23" y="625.45" font-size="11.6" fill="#231f20" stroke="#231f20" stroke-width="0.3" text-anchor="middle" textLength="6.05" lengthAdjust="spacingAndGlyphs">2</text>
<line x1="137.50" y1="605.25" x2="137.50" y2="610.25" stroke="#231f20" stroke-width="1.1"/>
<text x="137.06" y="625.45" font-size="11.6" fill="#231f20" stroke="#231f20" stroke-width="0.3" text-anchor="middle" textLength="6.05" lengthAdjust="spacingAndGlyphs">8</text>
<line x1="165.50" y1="605.25" x2="165.50" y2="610.25" stroke="#231f20" stroke-width="1.1"/>
<text x="165.89" y="625.45" font-size="11.6" fill="#231f20" stroke="#231f20" stroke-width="0.3" text-anchor="middle" textLength="12.1" lengthAdjust="spacingAndGlyphs">22</text>
<line x1="194.50" y1="605.25" x2="194.50" y2="610.25" stroke="#231f20" stroke-width="1.1"/>
<text x="194.72" y="625.45" font-size="11.6" fill="#231f20" stroke="#231f20" stroke-width="0.3" text-anchor="middle" textLength="12.1" lengthAdjust="spacingAndGlyphs">36</text>
<line x1="223.50" y1="605.25" x2="223.50" y2="610.25" stroke="#231f20" stroke-width="1.1"/>
<text x="223.55" y="625.45" font-size="11.6" fill="#231f20" stroke="#231f20" stroke-width="0.3" text-anchor="middle" textLength="12.1" lengthAdjust="spacingAndGlyphs">50</text>
<line x1="252.50" y1="605.25" x2="252.50" y2="610.25" stroke="#231f20" stroke-width="1.1"/>
<text x="252.38" y="625.45" font-size="11.6" fill="#231f20" stroke="#231f20" stroke-width="0.3" text-anchor="middle" textLength="12.1" lengthAdjust="spacingAndGlyphs">64</text>
<line x1="281.50" y1="605.25" x2="281.50" y2="610.25" stroke="#231f20" stroke-width="1.1"/>
<text x="281.21" y="625.45" font-size="11.6" fill="#231f20" stroke="#231f20" stroke-width="0.3" text-anchor="middle" textLength="12.1" lengthAdjust="spacingAndGlyphs">78</text>
<line x1="310.50" y1="605.25" x2="310.50" y2="610.25" stroke="#231f20" stroke-width="1.1"/>
<text x="310.04" y="625.45" font-size="11.6" fill="#231f20" stroke="#231f20" stroke-width="0.3" text-anchor="middle" textLength="12.1" lengthAdjust="spacingAndGlyphs">86</text>
<line x1="338.50" y1="605.25" x2="338.50" y2="610.25" stroke="#231f20" stroke-width="1.1"/>
<text x="338.87" y="625.45" font-size="11.6" fill="#231f20" stroke="#231f20" stroke-width="0.3" text-anchor="middle" textLength="12.1" lengthAdjust="spacingAndGlyphs">92</text>
<line x1="367.50" y1="605.25" x2="367.50" y2="610.25" stroke="#231f20" stroke-width="1.1"/>
<text x="367.70" y="625.45" font-size="11.6" fill="#231f20" stroke="#231f20" stroke-width="0.3" text-anchor="middle" textLength="18.15" lengthAdjust="spacingAndGlyphs">107</text>
<line x1="396.50" y1="605.25" x2="396.50" y2="610.25" stroke="#231f20" stroke-width="1.1"/>
<text x="396.53" y="625.45" font-size="11.6" fill="#231f20" stroke="#231f20" stroke-width="0.3" text-anchor="middle" textLength="18.15" lengthAdjust="spacingAndGlyphs">114</text>
<line x1="425.50" y1="605.25" x2="425.50" y2="610.25" stroke="#231f20" stroke-width="1.1"/>
<text x="425.36" y="625.45" font-size="11.6" fill="#231f20" stroke="#231f20" stroke-width="0.3" text-anchor="middle" textLength="18.15" lengthAdjust="spacingAndGlyphs">117</text>
<line x1="454.50" y1="605.25" x2="454.50" y2="610.25" stroke="#231f20" stroke-width="1.1"/>
<text x="454.19" y="625.45" font-size="11.6" fill="#231f20" stroke="#231f20" stroke-width="0.3" text-anchor="middle" textLength="18.15" lengthAdjust="spacingAndGlyphs">128</text>
<polyline points="101.54,509.40 108.54,494.20 115.73,485.40 122.93,483.50 130.13,484.40 137.33,475.80 144.52,479.60 151.72,480.80 158.92,479.80 166.11,486.50 173.31,486.00 180.51,491.70 187.70,492.80 194.90,497.90 202.10,498.80 209.30,506.30 216.49,506.30 223.69,511.30 230.89,514.60 238.08,521.00 245.28,522.20 252.48,524.60 259.68,526.60 266.87,529.10 274.07,541.50 281.27,526.60 302.86,477.10 310.05,466.50 317.25,460.40 324.45,459.80 331.64,456.50 346.04,456.90 353.24,460.80 360.43,460.40 403.62,456.90 410.81,445.80 418.01,440.30 425.21,438.20 432.40,438.80 439.60,437.40 446.80,438.90 453.99,439.70" fill="none" stroke="#66a44a" stroke-width="1.25" stroke-linejoin="round"/>
<circle cx="101.54" cy="509.40" r="2.20" fill="#66a44a"/>
<circle cx="108.54" cy="494.20" r="2.20" fill="#66a44a"/>
<circle cx="115.73" cy="485.40" r="2.20" fill="#66a44a"/>
<circle cx="122.93" cy="483.50" r="2.20" fill="#66a44a"/>
<circle cx="130.13" cy="484.40" r="2.20" fill="#66a44a"/>
<circle cx="137.33" cy="475.80" r="2.20" fill="#66a44a"/>
<circle cx="144.52" cy="479.60" r="2.20" fill="#66a44a"/>
<circle cx="151.72" cy="480.80" r="2.20" fill="#66a44a"/>
<circle cx="158.92" cy="479.80" r="2.20" fill="#66a44a"/>
<circle cx="166.11" cy="486.50" r="2.20" fill="#66a44a"/>
<circle cx="173.31" cy="486.00" r="2.20" fill="#66a44a"/>
<circle cx="180.51" cy="491.70" r="2.20" fill="#66a44a"/>
<circle cx="187.70" cy="492.80" r="2.20" fill="#66a44a"/>
<circle cx="194.90" cy="497.90" r="2.20" fill="#66a44a"/>
<circle cx="202.10" cy="498.80" r="2.20" fill="#66a44a"/>
<circle cx="209.30" cy="506.30" r="2.20" fill="#66a44a"/>
<circle cx="216.49" cy="506.30" r="2.20" fill="#66a44a"/>
<circle cx="223.69" cy="511.30" r="2.20" fill="#66a44a"/>
<circle cx="230.89" cy="514.60" r="2.20" fill="#66a44a"/>
<circle cx="238.08" cy="521.00" r="2.20" fill="#66a44a"/>
<circle cx="245.28" cy="522.20" r="2.20" fill="#66a44a"/>
<circle cx="252.48" cy="524.60" r="2.20" fill="#66a44a"/>
<circle cx="259.68" cy="526.60" r="2.20" fill="#66a44a"/>
<circle cx="266.87" cy="529.10" r="2.20" fill="#66a44a"/>
<circle cx="274.07" cy="541.50" r="2.20" fill="#66a44a"/>
<circle cx="281.27" cy="526.60" r="2.20" fill="#66a44a"/>
<circle cx="302.86" cy="477.10" r="2.20" fill="#66a44a"/>
<circle cx="310.05" cy="466.50" r="2.20" fill="#66a44a"/>
<circle cx="317.25" cy="460.40" r="2.20" fill="#66a44a"/>
<circle cx="324.45" cy="459.80" r="2.20" fill="#66a44a"/>
<circle cx="331.64" cy="456.50" r="2.20" fill="#66a44a"/>
<circle cx="346.04" cy="456.90" r="2.20" fill="#66a44a"/>
<circle cx="353.24" cy="460.80" r="2.20" fill="#66a44a"/>
<circle cx="360.43" cy="460.40" r="2.20" fill="#66a44a"/>
<circle cx="403.62" cy="456.90" r="2.20" fill="#66a44a"/>
<circle cx="410.81" cy="445.80" r="2.20" fill="#66a44a"/>
<circle cx="418.01" cy="440.30" r="2.20" fill="#66a44a"/>
<circle cx="425.21" cy="438.20" r="2.20" fill="#66a44a"/>
<circle cx="432.40" cy="438.80" r="2.20" fill="#66a44a"/>
<circle cx="439.60" cy="437.40" r="2.20" fill="#66a44a"/>
<circle cx="446.80" cy="438.90" r="2.20" fill="#66a44a"/>
<circle cx="453.99" cy="439.70" r="2.20" fill="#66a44a"/>
<polyline points="79.75,523.10 101.54,582.70 108.54,576.00 115.73,567.70 122.93,563.10 130.13,563.10 137.33,559.60 144.52,558.70 151.72,563.10 158.92,556.70 166.11,560.80 173.31,560.80 180.51,561.60 187.70,565.70 194.90,567.50 202.10,567.50 209.30,570.90 216.49,570.90 223.69,578.70 230.89,575.40 238.08,565.70 245.28,546.80 252.48,536.80 259.68,536.50 266.87,536.50 302.86,571.00 310.05,567.20 317.25,566.40 324.45,566.20 331.64,564.80 338.84,560.60 346.04,556.70 353.24,554.20 360.43,554.20 367.63,554.20 374.83,554.20 382.02,556.20 403.62,558.00 410.81,563.10 418.01,566.20 425.21,567.70 432.40,567.70 439.60,564.60 446.80,564.30 453.99,560.80" fill="none" stroke="#34517b" stroke-width="1.25" stroke-linejoin="round"/>
<rect x="77.80" y="521.15" width="3.90" height="3.90" fill="#34517b"/>
<rect x="99.59" y="580.75" width="3.90" height="3.90" fill="#34517b"/>
<rect x="106.59" y="574.05" width="3.90" height="3.90" fill="#34517b"/>
<rect x="113.78" y="565.75" width="3.90" height="3.90" fill="#34517b"/>
<rect x="120.98" y="561.15" width="3.90" height="3.90" fill="#34517b"/>
<rect x="128.18" y="561.15" width="3.90" height="3.90" fill="#34517b"/>
<rect x="135.38" y="557.65" width="3.90" height="3.90" fill="#34517b"/>
<rect x="142.57" y="556.75" width="3.90" height="3.90" fill="#34517b"/>
<rect x="149.77" y="561.15" width="3.90" height="3.90" fill="#34517b"/>
<rect x="156.97" y="554.75" width="3.90" height="3.90" fill="#34517b"/>
<rect x="164.16" y="558.85" width="3.90" height="3.90" fill="#34517b"/>
<rect x="171.36" y="558.85" width="3.90" height="3.90" fill="#34517b"/>
<rect x="178.56" y="559.65" width="3.90" height="3.90" fill="#34517b"/>
<rect x="185.75" y="563.75" width="3.90" height="3.90" fill="#34517b"/>
<rect x="192.95" y="565.55" width="3.90" height="3.90" fill="#34517b"/>
<rect x="200.15" y="565.55" width="3.90" height="3.90" fill="#34517b"/>
<rect x="207.35" y="568.95" width="3.90" height="3.90" fill="#34517b"/>
<rect x="214.54" y="568.95" width="3.90" height="3.90" fill="#34517b"/>
<rect x="221.74" y="576.75" width="3.90" height="3.90" fill="#34517b"/>
<rect x="228.94" y="573.45" width="3.90" height="3.90" fill="#34517b"/>
<rect x="236.13" y="563.75" width="3.90" height="3.90" fill="#34517b"/>
<rect x="243.33" y="544.85" width="3.90" height="3.90" fill="#34517b"/>
<rect x="250.53" y="534.85" width="3.90" height="3.90" fill="#34517b"/>
<rect x="257.73" y="534.55" width="3.90" height="3.90" fill="#34517b"/>
<rect x="264.92" y="534.55" width="3.90" height="3.90" fill="#34517b"/>
<rect x="300.91" y="569.05" width="3.90" height="3.90" fill="#34517b"/>
<rect x="308.10" y="565.25" width="3.90" height="3.90" fill="#34517b"/>
<rect x="315.30" y="564.45" width="3.90" height="3.90" fill="#34517b"/>
<rect x="322.50" y="564.25" width="3.90" height="3.90" fill="#34517b"/>
<rect x="329.69" y="562.85" width="3.90" height="3.90" fill="#34517b"/>
<rect x="336.89" y="558.65" width="3.90" height="3.90" fill="#34517b"/>
<rect x="344.09" y="554.75" width="3.90" height="3.90" fill="#34517b"/>
<rect x="351.29" y="552.25" width="3.90" height="3.90" fill="#34517b"/>
<rect x="358.48" y="552.25" width="3.90" height="3.90" fill="#34517b"/>
<rect x="365.68" y="552.25" width="3.90" height="3.90" fill="#34517b"/>
<rect x="372.88" y="552.25" width="3.90" height="3.90" fill="#34517b"/>
<rect x="380.07" y="554.25" width="3.90" height="3.90" fill="#34517b"/>
<rect x="401.67" y="556.05" width="3.90" height="3.90" fill="#34517b"/>
<rect x="408.86" y="561.15" width="3.90" height="3.90" fill="#34517b"/>
<rect x="416.06" y="564.25" width="3.90" height="3.90" fill="#34517b"/>
<rect x="423.26" y="565.75" width="3.90" height="3.90" fill="#34517b"/>
<rect x="430.45" y="565.75" width="3.90" height="3.90" fill="#34517b"/>
<rect x="437.65" y="562.65" width="3.90" height="3.90" fill="#34517b"/>
<rect x="444.85" y="562.35" width="3.90" height="3.90" fill="#34517b"/>
<rect x="452.04" y="558.85" width="3.90" height="3.90" fill="#34517b"/>
<polyline points="79.75,567.70 101.54,525.60 108.54,533.10 115.73,533.10 122.93,535.00 130.13,535.20 137.33,532.70 144.52,537.90 151.72,537.90 158.92,532.70 166.11,531.40 173.31,536.70 180.51,534.70 187.70,537.70 194.90,532.20 202.10,536.80 209.30,532.80 216.49,533.70 223.69,529.00 230.89,528.70 238.08,531.60 245.28,550.50 252.48,555.50 259.68,559.20 266.87,559.50 274.07,565.10 281.27,562.30 302.86,525.20 310.05,531.50 317.25,537.90 324.45,535.40 331.64,532.50 338.84,528.70 346.04,533.50 353.24,533.50 360.43,537.30 367.63,536.50 374.83,538.80 382.02,532.50 403.62,536.90 410.81,528.20 418.01,529.50 425.21,531.10 432.40,527.20 439.60,525.10 446.80,529.20 453.99,532.00" fill="none" stroke="#a52a3e" stroke-width="1.25" stroke-linejoin="round"/>
<polygon points="79.75,565.72 82.20,570.12 77.30,570.12" fill="#a52a3e"/>
<polygon points="101.54,523.62 103.99,528.02 99.09,528.02" fill="#a52a3e"/>
<polygon points="108.54,531.12 110.99,535.52 106.09,535.52" fill="#a52a3e"/>
<polygon points="115.73,531.12 118.19,535.52 113.28,535.52" fill="#a52a3e"/>
<polygon points="122.93,533.02 125.38,537.42 120.48,537.42" fill="#a52a3e"/>
<polygon points="130.13,533.22 132.58,537.62 127.68,537.62" fill="#a52a3e"/>
<polygon points="137.33,530.72 139.78,535.12 134.88,535.12" fill="#a52a3e"/>
<polygon points="144.52,535.92 146.97,540.32 142.07,540.32" fill="#a52a3e"/>
<polygon points="151.72,535.92 154.17,540.32 149.27,540.32" fill="#a52a3e"/>
<polygon points="158.92,530.72 161.37,535.12 156.47,535.12" fill="#a52a3e"/>
<polygon points="166.11,529.42 168.56,533.82 163.66,533.82" fill="#a52a3e"/>
<polygon points="173.31,534.72 175.76,539.12 170.86,539.12" fill="#a52a3e"/>
<polygon points="180.51,532.72 182.96,537.12 178.06,537.12" fill="#a52a3e"/>
<polygon points="187.70,535.72 190.15,540.12 185.25,540.12" fill="#a52a3e"/>
<polygon points="194.90,530.22 197.35,534.62 192.45,534.62" fill="#a52a3e"/>
<polygon points="202.10,534.82 204.55,539.22 199.65,539.22" fill="#a52a3e"/>
<polygon points="209.30,530.82 211.75,535.22 206.85,535.22" fill="#a52a3e"/>
<polygon points="216.49,531.72 218.94,536.12 214.04,536.12" fill="#a52a3e"/>
<polygon points="223.69,527.02 226.14,531.42 221.24,531.42" fill="#a52a3e"/>
<polygon points="230.89,526.72 233.34,531.12 228.44,531.12" fill="#a52a3e"/>
<polygon points="238.08,529.62 240.53,534.02 235.63,534.02" fill="#a52a3e"/>
<polygon points="245.28,548.52 247.73,552.92 242.83,552.92" fill="#a52a3e"/>
<polygon points="252.48,553.52 254.93,557.92 250.03,557.92" fill="#a52a3e"/>
<polygon points="259.68,557.22 262.12,561.62 257.23,561.62" fill="#a52a3e"/>
<polygon points="266.87,557.52 269.32,561.92 264.42,561.92" fill="#a52a3e"/>
<polygon points="274.07,563.12 276.52,567.52 271.62,567.52" fill="#a52a3e"/>
<polygon points="281.27,560.32 283.72,564.72 278.82,564.72" fill="#a52a3e"/>
<polygon points="302.86,523.22 305.31,527.62 300.41,527.62" fill="#a52a3e"/>
<polygon points="310.05,529.52 312.50,533.92 307.60,533.92" fill="#a52a3e"/>
<polygon points="317.25,535.92 319.70,540.32 314.80,540.32" fill="#a52a3e"/>
<polygon points="324.45,533.42 326.90,537.82 322.00,537.82" fill="#a52a3e"/>
<polygon points="331.64,530.52 334.09,534.92 329.19,534.92" fill="#a52a3e"/>
<polygon points="338.84,526.72 341.29,531.12 336.39,531.12" fill="#a52a3e"/>
<polygon points="346.04,531.52 348.49,535.92 343.59,535.92" fill="#a52a3e"/>
<polygon points="353.24,531.52 355.69,535.92 350.79,535.92" fill="#a52a3e"/>
<polygon points="360.43,535.32 362.88,539.72 357.98,539.72" fill="#a52a3e"/>
<polygon points="367.63,534.52 370.08,538.92 365.18,538.92" fill="#a52a3e"/>
<polygon points="374.83,536.82 377.28,541.22 372.38,541.22" fill="#a52a3e"/>
<polygon points="382.02,530.52 384.47,534.92 379.57,534.92" fill="#a52a3e"/>
<polygon points="403.62,534.92 406.06,539.32 401.17,539.32" fill="#a52a3e"/>
<polygon points="410.81,526.22 413.26,530.62 408.36,530.62" fill="#a52a3e"/>
<polygon points="418.01,527.52 420.46,531.92 415.56,531.92" fill="#a52a3e"/>
<polygon points="425.21,529.12 427.66,533.52 422.76,533.52" fill="#a52a3e"/>
<polygon points="432.40,525.22 434.85,529.62 429.95,529.62" fill="#a52a3e"/>
<polygon points="439.60,523.12 442.05,527.52 437.15,527.52" fill="#a52a3e"/>
<polygon points="446.80,527.22 449.25,531.62 444.35,531.62" fill="#a52a3e"/>
<polygon points="453.99,530.02 456.44,534.42 451.54,534.42" fill="#a52a3e"/>
<line x1="113" y1="410.2" x2="124.9" y2="410.2" stroke="#66a44a" stroke-width="1.2"/>
<circle cx="118.90" cy="410.20" r="2.20" fill="#66a44a"/>
<text x="129.1" y="413.8" font-size="11" fill="#231f20" stroke="#231f20" stroke-width="0.3" text-anchor="start" textLength="67" lengthAdjust="spacingAndGlyphs">MAA868 [nM]</text>
<line x1="113" y1="428.3" x2="124.9" y2="428.3" stroke="#a52a3e" stroke-width="1.2"/>
<polygon points="118.90,426.32 121.35,430.72 116.45,430.72" fill="#a52a3e"/>
<text x="129.1" y="431.90000000000003" font-size="11" fill="#231f20" stroke="#231f20" stroke-width="0.3" text-anchor="start" textLength="49" lengthAdjust="spacingAndGlyphs">aPTT [sec]</text>
<line x1="113" y1="446.4" x2="124.9" y2="446.4" stroke="#34517b" stroke-width="1.2"/>
<rect x="116.95" y="444.45" width="3.90" height="3.90" fill="#34517b"/>
<text x="129.1" y="450.0" font-size="11" fill="#231f20" stroke="#231f20" stroke-width="0.3" text-anchor="start" textLength="61.8" lengthAdjust="spacingAndGlyphs">free FXI [nM]</text>
<text x="12.9" y="384.7" font-size="17" fill="#231f20" stroke="#231f20" stroke-width="0.3" text-anchor="start">B</text>
<text x="236.6" y="401.6" font-size="15" fill="#231f20" stroke="#231f20" stroke-width="0.3" text-anchor="start" textLength="62.2" lengthAdjust="spacingAndGlyphs">Animal #2</text>
<text transform="translate(23.9,617.0) rotate(-90)" font-size="15" fill="#231f20" stroke="#231f20" stroke-width="0.3" text-anchor="start" textLength="216.2" lengthAdjust="spacingAndGlyphs">Total MAA868 or free FXI conc [nM]</text>
<text transform="translate(505.2,539.0) rotate(-90)" font-size="14" fill="#231f20" stroke="#231f20" stroke-width="0.3" text-anchor="start" textLength="62" lengthAdjust="spacingAndGlyphs">aPTT [sec]</text>
<text x="236.0" y="645.5" font-size="14" fill="#231f20" stroke="#231f20" stroke-width="0.3" text-anchor="start" textLength="62.3" lengthAdjust="spacingAndGlyphs">Study day</text>
<text x="213.4" y="468" font-size="11.5" fill="#a52a3e" stroke="#a52a3e" stroke-width="0.3" text-anchor="start" textLength="80.3" lengthAdjust="spacingAndGlyphs">2x baseline aPTT</text>
<text x="236.0" y="600.3" font-size="11.5" fill="#34517b" stroke="#34517b" stroke-width="0.3" text-anchor="start" textLength="58.1" lengthAdjust="spacingAndGlyphs">free FXI LLD</text>
<line x1="265.20" y1="475.00" x2="265.20" y2="509.00" stroke="#a52a3e" stroke-width="1.6"/>
<polygon points="265.20,515.80 261.90,508.00 265.20,509.50 268.50,508.00" fill="#a52a3e"/>
<line x1="262.40" y1="589.10" x2="262.40" y2="576.40" stroke="#34517b" stroke-width="1.6"/>
<polygon points="262.40,569.60 265.70,577.40 262.40,575.90 259.10,577.40" fill="#34517b"/>
<line x1="78.70" y1="659.90" x2="78.70" y2="640.00" stroke="#231f20" stroke-width="1.45"/>
<polygon points="78.70,633.60 81.90,641.00 78.70,639.50 75.50,641.00" fill="#231f20"/>
<line x1="106.50" y1="656.80" x2="102.09" y2="637.05" stroke="#231f20" stroke-width="1.45"/>
<polygon points="100.70,630.80 105.43,637.33 101.98,636.56 99.19,638.72" fill="#231f20"/>
<line x1="299.20" y1="660.70" x2="301.63" y2="637.56" stroke="#231f20" stroke-width="1.45"/>
<polygon points="302.30,631.20 304.71,638.89 301.68,637.07 298.34,638.23" fill="#231f20"/>
<line x1="384.30" y1="658.10" x2="389.12" y2="640.38" stroke="#231f20" stroke-width="1.45"/>
<polygon points="390.80,634.20 391.95,642.18 389.25,639.89 385.77,640.50" fill="#231f20"/>
<text x="38.2" y="671.1" font-size="12" fill="#231f20" stroke="#231f20" stroke-width="0.3" text-anchor="start" textLength="47" lengthAdjust="spacingAndGlyphs">Pre-dose</text>
<text x="109.1" y="671.2" font-size="12" fill="#231f20" stroke="#231f20" stroke-width="0.3" text-anchor="start" textLength="47.4" lengthAdjust="spacingAndGlyphs">first dose</text>
<text x="107.6" y="686.5" font-size="12" fill="#231f20" stroke="#231f20" stroke-width="0.3" text-anchor="start" textLength="51.4" lengthAdjust="spacingAndGlyphs">(3 mg/kg)</text>
<text x="273.4" y="673" font-size="12" fill="#231f20" stroke="#231f20" stroke-width="0.3" text-anchor="start" textLength="65.4" lengthAdjust="spacingAndGlyphs">second dose</text>
<text x="278.1" y="688.1" font-size="12" fill="#231f20" stroke="#231f20" stroke-width="0.3" text-anchor="start" textLength="57.1" lengthAdjust="spacingAndGlyphs">(10 mg/kg)</text>
<text x="375.9" y="670.8" font-size="12" fill="#231f20" stroke="#231f20" stroke-width="0.3" text-anchor="start" textLength="52.6" lengthAdjust="spacingAndGlyphs">third dose</text>
<text x="373.4" y="685.5" font-size="12" fill="#231f20" stroke="#231f20" stroke-width="0.3" text-anchor="start" textLength="57.5" lengthAdjust="spacingAndGlyphs">(30 mg/kg)</text>
<rect x="0" y="0" width="520" height="1" fill="#000"/>
<rect x="0" y="1" width="520" height="1" fill="#777"/>
<rect x="0" y="701" width="520" height="1" fill="#777"/>
<rect x="0" y="702" width="520" height="1" fill="#000"/>
<rect x="517" y="0" width="1" height="703" fill="#c8c8c8"/>
<rect x="518" y="0" width="1" height="703" fill="#404040"/>
<rect x="519" y="0" width="1" height="703" fill="#000"/>
<rect x="0" y="0" width="1" height="703" fill="#8a8a8a"/>
<rect x="1" y="0" width="1" height="703" fill="#1a1a1a"/>
</svg>
</body></html>
